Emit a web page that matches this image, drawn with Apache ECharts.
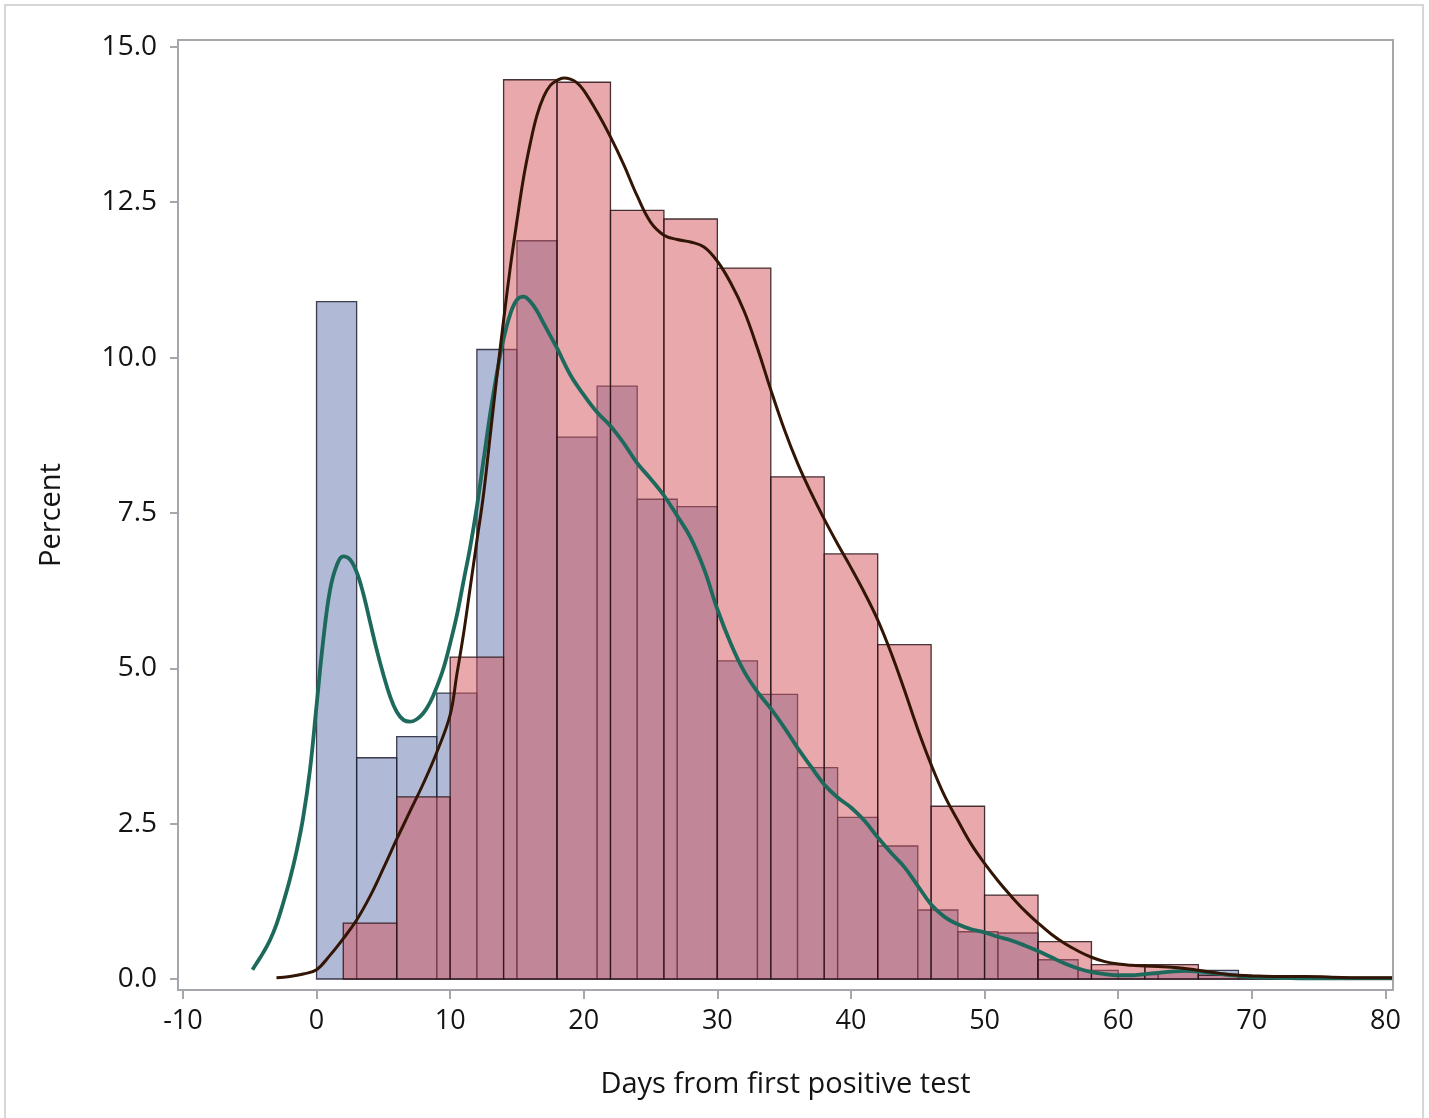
<!DOCTYPE html>
<html>
<head>
<meta charset="utf-8">
<title>Days from first positive test</title>
<script src="https://cdn.jsdelivr.net/npm/echarts@6/dist/echarts.min.js"></script>
<style>
  html, body { margin: 0; padding: 0; background: #fff; }
  #chart { width: 1429px; height: 1118px; }
</style>
</head>
<body>
<div id="chart"></div>
<script>
// histogram bins (percent per bin)
const blueFirstEdge = 0;
const blueBinWidth = 3;
const blueValues = [10.9, 3.56, 3.9, 4.6, 10.13, 11.88, 8.72, 9.54, 7.72, 7.6, 5.12, 4.58,
    3.4, 2.6, 2.14, 1.11, 0.76, 0.74, 0.31, 0.14, 0.07, 0.12, 0.14, 0.03];

const redFirstEdge = 2;
const redBinWidth = 4;
const redValues = [0.9, 2.93, 5.18, 14.47, 14.43, 12.37, 12.23, 11.44, 8.08, 6.84, 5.38,
    2.78, 1.35, 0.6, 0.23, 0.23, 0.06, 0.02];

// density curves
const greenDays = [-4.8, -4.5, -4, -3.5, -3, -2.5, -2, -1.5, -1, -0.5, 0, 0.5, 1, 1.5, 2,
    2.5, 3, 3.5, 4, 4.5, 5, 5.5, 6, 6.5, 7, 7.5, 8, 8.5, 9, 9.5, 10, 10.5, 11, 11.5, 12,
    12.5, 13, 13.5, 14, 14.5, 15, 15.5, 16, 16.5, 17, 17.5, 18, 19, 20, 21, 22, 23, 24, 25,
    26, 27, 28, 29, 30, 31, 32, 33, 34, 35, 36, 37, 38, 39, 40, 41, 42, 43, 44, 45, 46, 47,
    48, 49, 50, 51, 52, 53, 54, 55, 56, 57, 58, 59, 60, 61, 62, 63, 64, 65, 66, 67, 68, 69,
    70, 72, 75, 80.5];
const greenValues = [0.15, 0.25, 0.42, 0.62, 0.88, 1.22, 1.6, 2.05, 2.6, 3.35, 4.4, 5.45,
    6.25, 6.65, 6.8, 6.75, 6.55, 6.2, 5.75, 5.3, 4.9, 4.55, 4.3, 4.17, 4.14, 4.18, 4.28,
    4.45, 4.7, 5.0, 5.4, 5.85, 6.4, 6.95, 7.6, 8.35, 9.1, 9.75, 10.3, 10.7, 10.93, 10.98,
    10.9, 10.75, 10.55, 10.35, 10.15, 9.72, 9.4, 9.12, 8.9, 8.62, 8.3, 8.05, 7.78, 7.45,
    7.1, 6.6, 5.95, 5.4, 4.95, 4.62, 4.35, 4.05, 3.72, 3.42, 3.13, 2.92, 2.76, 2.55, 2.28,
    2.03, 1.8, 1.5, 1.2, 1.0, 0.88, 0.8, 0.75, 0.68, 0.62, 0.54, 0.45, 0.35, 0.25, 0.17,
    0.11, 0.08, 0.06, 0.06, 0.08, 0.1, 0.12, 0.13, 0.12, 0.1, 0.07, 0.05, 0.03, 0.02, 0.01,
    0.01];

const brownDays = [-3, -2, -1, 0, 1, 2, 3, 4, 5, 6, 7, 8, 9, 10, 10.5, 11, 11.5, 12, 12.5,
    13, 13.5, 14, 14.5, 15, 15.5, 16, 16.5, 17, 17.5, 18, 18.5, 19, 19.5, 20, 21, 22, 23,
    24, 25, 26, 27, 28, 29, 30, 31, 32, 33, 34, 35, 36, 37, 38, 39, 40, 41, 42, 43, 44, 45,
    46, 47, 48, 49, 50, 51, 52, 53, 54, 55, 56, 57, 58, 59, 60, 61, 62, 63, 64, 65, 66, 67,
    68, 69, 70, 72, 74, 76, 78, 80.5];
const brownValues = [0.02, 0.04, 0.08, 0.15, 0.38, 0.65, 0.95, 1.33, 1.78, 2.25, 2.7, 3.15,
    3.65, 4.25, 4.9, 5.55, 6.3, 7.05, 7.8, 8.75, 9.7, 10.6, 11.45, 12.2, 12.9, 13.45, 13.9,
    14.2, 14.38, 14.46, 14.5, 14.48, 14.42, 14.3, 13.95, 13.55, 13.1, 12.6, 12.18, 11.97,
    11.9, 11.86, 11.78, 11.55, 11.2, 10.75, 10.15, 9.48, 8.85, 8.3, 7.83, 7.4, 7.0, 6.62,
    6.22, 5.78, 5.25, 4.65, 4.02, 3.45, 2.95, 2.55, 2.17, 1.86, 1.58, 1.33, 1.1, 0.9, 0.72,
    0.57, 0.45, 0.35, 0.28, 0.24, 0.22, 0.21, 0.2, 0.19, 0.17, 0.14, 0.11, 0.08, 0.06, 0.05,
    0.04, 0.04, 0.03, 0.02, 0.02];

const xTickValues = [-10, 0, 10, 20, 30, 40, 50, 60, 70, 80];
const yTickValues = [0, 2.5, 5, 7.5, 10, 12.5, 15];

// turn bin values into [start, end, value] rows
function binsToRows(firstEdge, width, values) {
    return values.map(function (v, i) {
        return [firstEdge + i * width, firstEdge + (i + 1) * width, v];
    });
}

function renderBar(params, api) {
    const p0 = api.coord([api.value(0), api.value(2)]);
    const p1 = api.coord([api.value(1), 0]);
    return {
        type: 'rect',
        shape: { x: p0[0], y: p0[1], width: p1[0] - p0[0], height: p1[1] - p0[1] },
        style: api.style()
    };
}

function pairs(xs, ys) {
    return xs.map(function (x, i) { return [x, ys[i]]; });
}

const axisColor = '#a4a8ad';
const textColor = '#141414';
const fontFamily = '"Open Sans", "DejaVu Sans", sans-serif';

const chart = echarts.init(document.getElementById('chart'));

chart.setOption({
    animation: false,
    backgroundColor: '#fff',
    graphic: [{
        type: 'rect',
        silent: true,
        shape: { x: 5, y: 5, width: 1418, height: 1130 },
        style: { fill: 'none', stroke: '#d6d6d6', lineWidth: 2 }
    }],
    grid: {
        left: 178, right: 36, top: 40, bottom: 128,
        show: true, borderColor: axisColor, borderWidth: 2
    },
    xAxis: {
        type: 'value',
        min: -10.37,
        max: 80.57,
        splitLine: { show: false },
        axisLine: { show: true, onZero: false, lineStyle: { color: axisColor, width: 2 } },
        axisTick: { show: true, length: 9, customValues: xTickValues,
            lineStyle: { color: axisColor, width: 2 } },
        axisLabel: { customValues: xTickValues, color: textColor, fontSize: 27,
            fontFamily: fontFamily, margin: 18 },
        name: 'Days from first positive test',
        nameLocation: 'middle',
        nameGap: 80,
        nameTextStyle: { color: textColor, fontSize: 29, fontFamily: fontFamily }
    },
    yAxis: {
        type: 'value',
        min: -0.177,
        max: 15.11,
        splitLine: { show: false },
        axisLine: { show: true, onZero: false, lineStyle: { color: axisColor, width: 2 } },
        axisTick: { show: true, length: 8, customValues: yTickValues,
            lineStyle: { color: axisColor, width: 2 } },
        axisLabel: { customValues: yTickValues, color: textColor, fontSize: 28,
            fontFamily: fontFamily, margin: 21,
            formatter: function (v) { return v.toFixed(1); } },
        name: 'Percent',
        nameLocation: 'middle',
        nameGap: 112,
        nameRotate: 90,
        nameTextStyle: { color: textColor, fontSize: 29, fontFamily: fontFamily }
    },
    series: [
        {
            name: 'blue bins',
            type: 'custom',
            renderItem: renderBar,
            encode: { x: [0, 1], y: 2 },
            itemStyle: { color: 'rgba(97,117,173,0.5)', borderColor: 'rgba(30,32,50,0.85)', borderWidth: 1.3 },
            data: binsToRows(blueFirstEdge, blueBinWidth, blueValues),
            z: 1
        },
        {
            name: 'red bins',
            type: 'custom',
            renderItem: renderBar,
            encode: { x: [0, 1], y: 2 },
            itemStyle: { color: 'rgba(209,81,89,0.5)', borderColor: 'rgba(40,20,25,0.85)', borderWidth: 1.3 },
            data: binsToRows(redFirstEdge, redBinWidth, redValues),
            z: 2
        },
        {
            name: 'green density',
            type: 'line',
            smooth: 0.4,
            showSymbol: false,
            symbol: 'none',
            lineStyle: { color: '#1d6a5c', width: 3.8 },
            data: pairs(greenDays, greenValues),
            z: 3
        },
        {
            name: 'brown density',
            type: 'line',
            smooth: 0.4,
            showSymbol: false,
            symbol: 'none',
            lineStyle: { color: '#331505', width: 3 },
            data: pairs(brownDays, brownValues),
            z: 4
        }
    ]
});
</script>
</body>
</html>
